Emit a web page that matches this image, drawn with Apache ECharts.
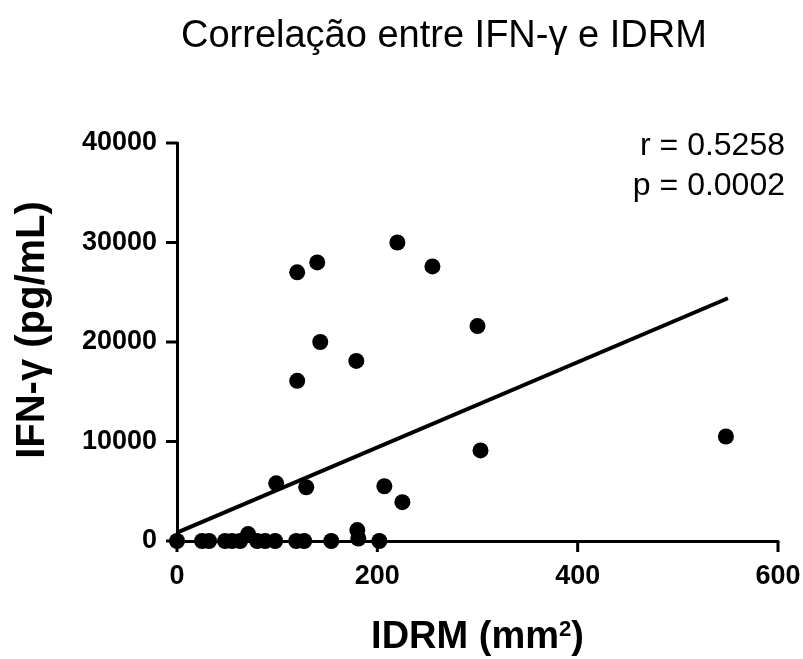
<!DOCTYPE html>
<html>
<head>
<meta charset="utf-8">
<script src="https://cdn.jsdelivr.net/npm/echarts@6/dist/echarts.min.js"></script>
<style>html,body{margin:0;padding:0;background:#fff}#c{width:803px;height:659px}</style>
</head>
<body>
<div id="c"></div>
<script>
// IDRM (mm^2) and IFN-gamma (pg/mL)
var idrm = [120, 140, 220, 255, 300, 143, 179, 120, 303, 548, 225, 99, 129, 207,
            71, 180, 181,
            0, 25, 32, 48, 55, 63, 80, 88, 98, 119, 127, 154, 202];
var ifng = [27000, 28000, 30000, 27600, 21600, 20000, 18100, 16100, 9100, 10500, 3900, 5800, 5400, 5500,
            700, 1100, 250,
            0, 0, 0, 0, 0, 0, 0, 0, 0, 0, 0, 0, 0];
// fitted regression line end points
var lineX = [0, 550];
var lineY = [850, 24400];
var xTicks = [0, 200, 400, 600];
var yTicks = [0, 10000, 20000, 30000, 40000];
var statsText = ['r = 0.5258', 'p = 0.0002'];

var pts = idrm.map(function (v, i) { return [v, ifng[i]]; });
var line = lineX.map(function (v, i) { return [v, lineY[i]]; });

var chart = echarts.init(document.getElementById('c'));
var font = '"Liberation Sans", Arial, sans-serif';
var TICK = 11;
function axisParts(margin) {
  return {
    axisLine: { show: true, onZero: false, lineStyle: { color: '#000', width: 3 } },
    axisTick: { show: false },
    splitLine: { show: false },
    axisLabel: { show: true, margin: margin, color: '#000', fontWeight: 'bold', fontSize: 27, fontFamily: font,
                 formatter: function (v) { return String(v); } }
  };
}
var xa = axisParts(22);
var ya = axisParts(20);

var statsGraphics = [
  { id: 's0', type: 'text', right: 18, top: 130, style: { text: statsText[0], fontSize: 32, fill: '#000', fontFamily: font } },
  { id: 's1', type: 'text', right: 18, top: 170, style: { text: statsText[1], fontSize: 32, fill: '#000', fontFamily: font } }
];

chart.setOption({
  animation: false,
  backgroundColor: '#fff',
  title: {
    text: 'Correlação entre IFN-γ e IDRM',
    left: 176, top: 13,
    textStyle: { fontSize: 38, fontWeight: 'normal', color: '#000', fontFamily: font }
  },
  grid: { left: 177, right: 25, top: 143, bottom: 118, containLabel: false, outerBoundsMode: 'none' },
  xAxis: {
    type: 'value', min: xTicks[0], max: xTicks[xTicks.length - 1], interval: 200,
    axisLine: xa.axisLine, axisTick: xa.axisTick, splitLine: xa.splitLine, axisLabel: xa.axisLabel,
    name: '{a|IDRM (mm}{s|2}{a|)}', nameLocation: 'middle', nameGap: 78,
    nameTextStyle: {
      rich: {
        a: { fontSize: 38, fontWeight: 'bold', color: '#000', fontFamily: font },
        s: { fontSize: 22, fontWeight: 'bold', color: '#000', fontFamily: font, verticalAlign: 'top', padding: [0, 0, 16, 0] }
      }
    }
  },
  yAxis: {
    type: 'value', min: yTicks[0], max: yTicks[yTicks.length - 1], interval: 10000,
    axisLine: ya.axisLine, axisTick: ya.axisTick, splitLine: ya.splitLine, axisLabel: ya.axisLabel,
    name: 'IFN-γ (pg/mL)', nameLocation: 'middle', nameGap: 124, nameRotate: 90,
    nameTextStyle: { fontSize: 40, fontWeight: 'bold', color: '#000', fontFamily: font, padding: [0, 0, 0, 24] }
  },
  graphic: statsGraphics,
  series: [
    { type: 'line', data: line, showSymbol: false, symbol: 'none', lineStyle: { color: '#000', width: 4 }, z: 3 },
    { type: 'scatter', data: pts, symbolSize: 16, itemStyle: { color: '#000', opacity: 1 }, z: 4, clip: false }
  ]
});

// tick marks placed through the chart's own scales
var tickGraphics = [];
xTicks.forEach(function (v, i) {
  var p = chart.convertToPixel({ gridIndex: 0 }, [v, yTicks[0]]);
  tickGraphics.push({ id: 'xt' + i, type: 'line', z: 10,
    shape: { x1: p[0], y1: p[1], x2: p[0], y2: p[1] + TICK },
    style: { stroke: '#000', lineWidth: 3 } });
});
yTicks.forEach(function (v, i) {
  var p = chart.convertToPixel({ gridIndex: 0 }, [xTicks[0], v]);
  tickGraphics.push({ id: 'yt' + i, type: 'line', z: 10,
    shape: { x1: p[0], y1: p[1], x2: p[0] - TICK, y2: p[1] },
    style: { stroke: '#000', lineWidth: 3 } });
});
chart.setOption({ graphic: statsGraphics.concat(tickGraphics) });
</script>
</body>
</html>
